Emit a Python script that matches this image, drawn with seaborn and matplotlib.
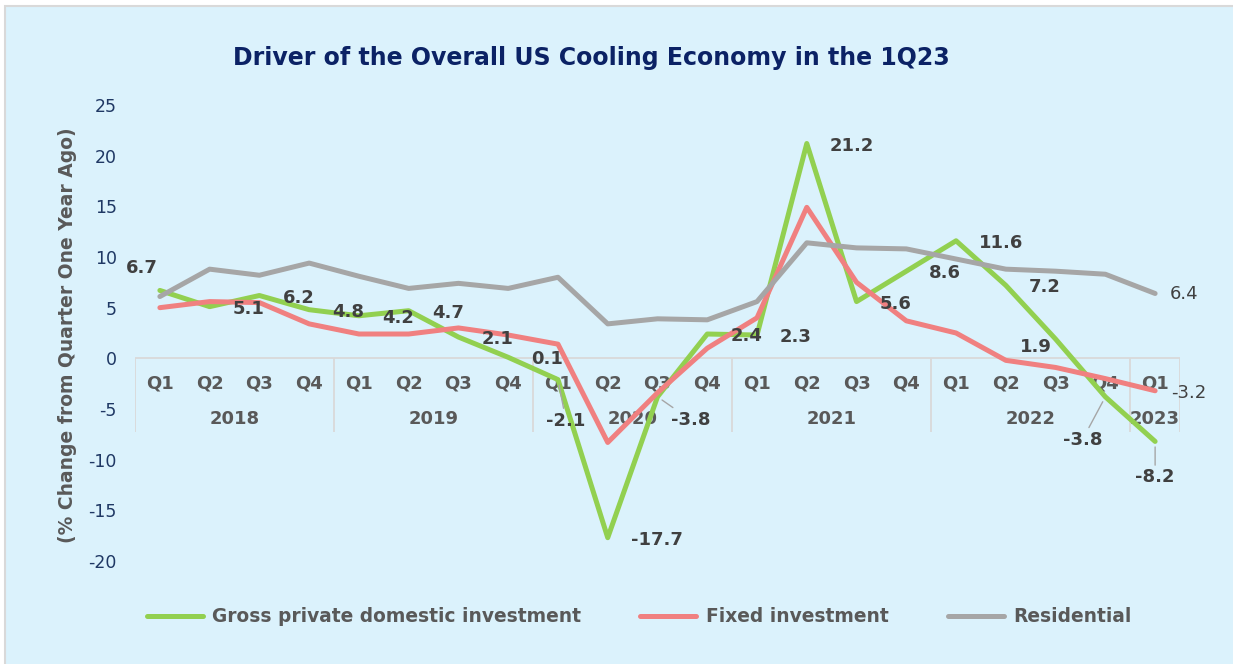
import pandas as pd
import matplotlib
matplotlib.use("Agg")
import matplotlib.pyplot as plt
import seaborn as sns
from matplotlib.lines import Line2D
from matplotlib.patches import Rectangle

# chart data
quarters = ["Q1", "Q2", "Q3", "Q4"] * 5 + ["Q1"]
years = ["2018", "2019", "2020", "2021", "2022", "2023"]
year_lengths = [4, 4, 4, 4, 4, 1]

gross = [6.7, 5.1, 6.2, 4.8, 4.2, 4.7, 2.1, 0.1,
         -2.1, -17.7, -3.8, 2.4, 2.3, 21.2, 5.6, 8.6,
         11.6, 7.2, 1.9, -3.8, -8.2]
fixed = [5.0, 5.6, 5.5, 3.4, 2.4, 2.4, 3.0, 2.3,
         1.4, -8.3, -3.4, 1.0, 4.0, 14.9, 7.5, 3.7,
         2.5, -0.2, -0.9, -2.0, -3.2]
residential = [6.1, 8.8, 8.2, 9.4, 8.1, 6.9, 7.4, 6.9,
               8.0, 3.4, 3.9, 3.8, 5.6, 11.4, 10.9, 10.8,
               9.8, 8.8, 8.6, 8.3, 6.4]

series_names = ["Gross private domestic investment", "Fixed investment", "Residential"]
colors = ["#92D050", "#F08080", "#A6A6A6"]

title = "Driver of the Overall US Cooling Economy in the 1Q23"
ylabel = "(% Change from Quarter One Year Ago)"

# long table for seaborn
rows = []
for name, vals in zip(series_names, [gross, fixed, residential]):
    for i, v in enumerate(vals):
        rows.append({"pos": i, "series": name, "value": v})
df = pd.DataFrame(rows)

sns.set_theme(style="white")
plt.rcParams["font.family"] = ["DejaVu Sans"]
plt.rcParams["axes.unicode_minus"] = False

W, H = 1233, 664
fig = plt.figure(figsize=(W / 100, H / 100), dpi=100)
fig.patch.set_facecolor("white")
fig.add_artist(Rectangle((5 / W, -0.02), 1.05, 1 - 6 / H + 0.02,
                         transform=fig.transFigure, facecolor="#DBF2FC",
                         edgecolor="#D9D9D9", lw=1.5, zorder=-10))

ax = fig.add_axes([135 / W, 1 - 561 / H, (1180 - 135) / W, 456 / H])
ax.set_facecolor("none")

sns.lineplot(
    data=df, x="pos", y="value",
    hue="series", hue_order=series_names, palette=colors,
    linewidth=3.6, legend=False, sort=False, ax=ax,
    solid_capstyle="round", solid_joinstyle="round"
)

ax.set_xlim(-0.5, len(quarters) - 0.5)
ax.set_ylim(-20, 25)
ax.set_yticks(range(-20, 26, 5))
ax.set_xticks([])
ax.set_xlabel("")
ax.set_ylabel("")
ax.tick_params(axis="y", length=0, labelsize=12.5, labelcolor="#1F3864", pad=13)
sns.despine(ax=ax, left=True, bottom=True)

# category axis (quarters / years)
grid_col = "#D9D9D9"
ax.axhline(0, color=grid_col, lw=1.3, zorder=0.5)
bounds = [-0.5]
for n in year_lengths:
    bounds.append(bounds[-1] + n)
ax.vlines(bounds, -7.3, 0, color=grid_col, lw=1.3, zorder=0.5)

for i, q in enumerate(quarters):
    ax.text(i, -2.45, q, ha="center", va="center", fontsize=13,
            fontweight="bold", color="#595959", zorder=1)
for k, yr in enumerate(years):
    mid = (bounds[k] + bounds[k + 1]) / 2
    ax.text(mid, -6.0, yr, ha="center", va="center", fontsize=13,
            fontweight="bold", color="#595959", zorder=1)

# data labels on the gross investment line
special = {
    0: (-18, 22, "center", False),
    8: (8, -41, "center", True),
    10: (33, -23, "center", True),
    18: (-20, -8, "center", False),
    19: (-23, -43, "center", True),
    20: (0, -36, "center", True),
}
for i, v in enumerate(gross):
    dx, dy, ha, leader = special.get(i, (23, -2, "left", False))
    ap = dict(arrowstyle="-", color="#A6A6A6", lw=1, shrinkA=0, shrinkB=4) if leader else None
    ax.annotate(f"{v:.1f}", xy=(i, v), xytext=(dx, dy), textcoords="offset pixels",
                ha=ha, va="center", fontsize=13, fontweight="bold",
                color="#404040", arrowprops=ap, zorder=5)

last = len(quarters) - 1
ax.annotate(f"{residential[-1]:.1f}", xy=(last, residential[-1]), xytext=(15, -1),
            textcoords="offset pixels", ha="left", va="center",
            fontsize=13, color="#404040", annotation_clip=False)
ax.annotate(f"{fixed[-1]:.1f}", xy=(last, fixed[-1]), xytext=(16, -2),
            textcoords="offset pixels", ha="left", va="center",
            fontsize=13, color="#404040", annotation_clip=False)

fig.text(591 / W, 1 - 58 / H, title, ha="center", va="center",
         fontsize=17, fontweight="bold", color="#0B2265")
fig.text(68 / W, 1 - 335 / H, ylabel, rotation=90, ha="center", va="center",
         fontsize=13.5, fontweight="bold", color="#595959")

handles = [Line2D([], [], color=c, lw=3.6, solid_capstyle="round") for c in colors]
fig.legend(handles, series_names, loc="center", bbox_to_anchor=(639 / W, 1 - 617 / H),
           ncol=3, frameon=False, handlelength=3.0, handletextpad=0.5,
           columnspacing=3.2, prop={"weight": "bold", "size": 13.4},
           labelcolor="#595959")

fig.savefig("out.png", dpi=100, facecolor=fig.get_facecolor())
